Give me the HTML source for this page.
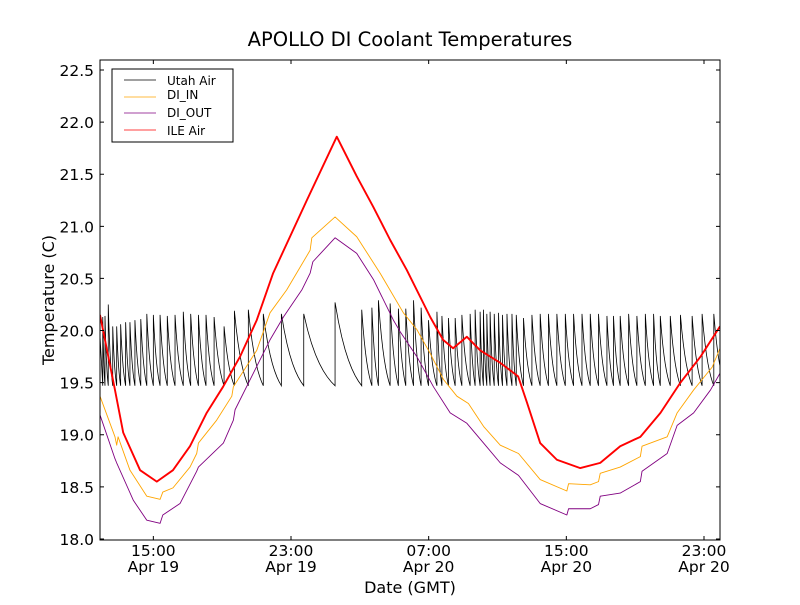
<!DOCTYPE html>
<html><head><meta charset="utf-8">
<style>
html,body{margin:0;padding:0;background:#fff;}
svg text{font-family:"DejaVu Sans","Liberation Sans",sans-serif;fill:#000;}
</style></head>
<body>
<svg id="chart" width="800" height="600" xmlns="http://www.w3.org/2000/svg">
<rect width="800" height="600" fill="#fff"/>
<text x="410" y="46" font-size="19.5" text-anchor="middle">APOLLO DI Coolant Temperatures</text>
<text x="410" y="593" font-size="16" text-anchor="middle">Date (GMT)</text>
<text transform="translate(54,300) rotate(-90)" font-size="16" text-anchor="middle">Temperature (C)</text>
<g id="series"></g>
<g id="axes"></g>
<g id="legend">
<rect x="112" y="69" width="121" height="73" fill="#fff" stroke="#000" stroke-width="1"/>
<g><line x1="124" x2="156" y1="80" y2="80" stroke="#000" stroke-width="0.8"/><text x="167" y="85" font-size="12">Utah Air</text></g>
<g><line x1="124" x2="156" y1="97" y2="97" stroke="#ffa500" stroke-width="0.8"/><text x="167" y="99" font-size="12">DI_IN</text></g>
<g><line x1="124" x2="156" y1="113" y2="113" stroke="#800080" stroke-width="0.8"/><text x="167" y="117" font-size="12">DI_OUT</text></g>
<g><line x1="124" x2="156" y1="130" y2="130" stroke="#ff0000" stroke-width="0.8"/><text x="167" y="135" font-size="12">ILE Air</text></g>
</g>
</svg>
<script>
// time in hours since Apr 19 00:00 GMT
const xTicks = [15, 23, 31, 39, 47];
const xTickTimes = ["15:00", "23:00", "07:00", "15:00", "23:00"];
const xTickDates = ["Apr 19", "Apr 19", "Apr 20", "Apr 20", "Apr 20"];
const yTicks = [18.0, 18.5, 19.0, 19.5, 20.0, 20.5, 21.0, 21.5, 22.0, 22.5];

const ileTimes = [11.9,12.77,13.25,14.23,15.2,16.14,17.13,18.1,19.05,20.04,21.01,21.96,23.92,25.66,26.82,27.77,28.76,29.73,31.09,31.84,32.42,33.22,33.99,35.16,36.2,36.71,37.48,38.45,39.81,40.97,42.13,43.3,44.47,45.63,46.8,47.93];
const ileValues = [20.15,19.43,19.02,18.66,18.55,18.66,18.89,19.21,19.46,19.75,20.1,20.55,21.25,21.86,21.48,21.19,20.87,20.58,20.13,19.91,19.83,19.94,19.81,19.69,19.56,19.31,18.92,18.76,18.68,18.73,18.89,18.98,19.21,19.5,19.75,20.04];

const inTimes = [11.9,12.77,12.87,12.95,13.64,14.62,15.39,15.55,16.14,17.13,17.52,17.62,18.68,19.56,19.65,21.01,21.78,22.75,24.11,24.21,25.56,26.82,28.18,29.53,30.31,31.09,31.86,32.64,33.31,34.19,35.16,36.22,37.48,39.03,39.13,40.39,40.87,40.97,42.13,43.3,43.4,44.86,45.44,46.4,47.48,47.93];
const inValues = [19.37,18.98,18.9,18.98,18.66,18.41,18.38,18.45,18.49,18.69,18.82,18.92,19.14,19.37,19.46,19.81,20.17,20.39,20.77,20.89,21.09,20.9,20.55,20.17,20.01,19.78,19.53,19.37,19.3,19.08,18.9,18.82,18.57,18.46,18.53,18.52,18.55,18.63,18.69,18.79,18.89,18.98,19.21,19.43,19.65,19.83];

const outTimes = [11.9,12.77,12.87,13.84,14.62,15.39,15.55,16.55,17.52,17.62,19.07,19.65,19.75,21.78,22.56,23.63,24.11,24.27,25.56,26.82,27.79,28.95,29.34,30.31,31.28,32.25,33.22,34.19,35.16,36.22,37.48,39.03,39.13,40.39,40.87,40.97,42.13,43.3,43.4,44.86,45.44,46.4,47.38,47.93];
const outValues = [19.19,18.77,18.73,18.37,18.18,18.15,18.23,18.34,18.65,18.69,18.92,19.14,19.24,19.91,20.13,20.39,20.55,20.66,20.89,20.74,20.49,20.1,19.99,19.75,19.46,19.21,19.11,18.92,18.73,18.61,18.34,18.23,18.29,18.29,18.33,18.41,18.44,18.55,18.65,18.82,19.09,19.21,19.43,19.59];

const utahPeakTimes = [12.06,12.19,12.38,12.64,12.87,13.1,13.39,13.64,13.93,14.27,14.62,15.0,15.39,15.81,16.26,16.74,17.17,17.62,18.06,18.53,19.11,19.71,20.52,21.39,22.44,23.74,25.56,27.11,27.7,28.08,28.76,29.24,29.67,30.12,30.56,30.99,31.48,31.77,32.15,32.54,32.93,33.41,33.7,33.99,34.18,34.38,34.57,34.81,35.06,35.29,35.55,35.84,36.09,36.51,37.0,37.48,37.96,38.45,38.94,39.42,39.91,40.39,40.87,41.36,41.74,42.13,42.62,43.1,43.59,44.07,44.46,45.04,45.63,46.31,46.89,47.57];
const utahPeakValues = [20.13,20.14,20.25,20.04,20.04,20.06,20.08,20.08,20.1,20.11,20.16,20.15,20.15,20.14,20.15,20.18,20.16,20.15,20.15,20.13,20.04,20.19,20.2,20.16,20.16,20.16,20.27,20.2,20.22,20.29,20.26,20.21,20.21,20.29,20.22,20.1,20.18,20.14,20.12,20.12,20.15,20.16,20.2,20.18,20.2,20.16,20.18,20.16,20.17,20.15,20.16,20.16,20.15,20.12,20.15,20.16,20.16,20.16,20.16,20.16,20.16,20.16,20.16,20.14,20.14,20.14,20.16,20.14,20.16,20.16,20.14,20.14,20.15,20.14,20.16,20.16];
const utahTrough = 19.47;
const utahStart = 19.95;

const T0 = 11.9, T1 = 47.93, X0 = 100, X1 = 720;
const V0 = 17.99, V1 = 22.596, Y0 = 540, Y1 = 60;
function xs(t){ return X0 + (t - T0) / (T1 - T0) * (X1 - X0); }
function ys(v){ return Y0 - (v - V0) / (V1 - V0) * (Y0 - Y1); }
const NS = "http://www.w3.org/2000/svg";
const series = document.getElementById('series');
const axes = document.getElementById('axes');

const defs = document.createElementNS(NS, 'defs');
defs.innerHTML = '<clipPath id="clip"><rect x="100" y="60" width="620" height="480"/></clipPath>';
document.getElementById('chart').insertBefore(defs, series);
series.setAttribute('clip-path', 'url(#clip)');

function linePath(times, vals){
  let d = '';
  for (let i = 0; i < times.length; i++) d += (i ? 'L' : 'M') + xs(times[i]).toFixed(2) + ',' + ys(vals[i]).toFixed(2);
  return d;
}

(function(){
  let d = 'M' + xs(T0).toFixed(2) + ',' + ys(utahStart).toFixed(2);
  d += 'L' + xs(utahPeakTimes[0]).toFixed(2) + ',' + ys(utahTrough).toFixed(2);
  const k = 1.6, norm = 1 - Math.exp(-k);
  for (let i = 0; i < utahPeakTimes.length; i++) {
    const t = utahPeakTimes[i], p = utahPeakValues[i];
    const tn = i + 1 < utahPeakTimes.length ? utahPeakTimes[i + 1] : T1 + 0.3;
    d += 'L' + xs(t).toFixed(2) + ',' + ys(p).toFixed(2);
    const steps = 8;
    for (let s = 1; s <= steps; s++) {
      const f = s / steps;
      const g = (Math.exp(-k * f) - Math.exp(-k)) / norm;
      const v = utahTrough + (p - utahTrough) * g;
      d += 'L' + xs(t + (tn - t) * f).toFixed(2) + ',' + ys(v).toFixed(2);
    }
  }
  const el = document.createElementNS(NS, 'path');
  el.setAttribute('d', d);
  el.setAttribute('fill', 'none');
  el.setAttribute('stroke', '#000');
  el.setAttribute('stroke-width', '0.8');
  
  
  series.appendChild(el);
})();

function addLine(times, vals, color, w, name){
  const el = document.createElementNS(NS, 'path');
  el.setAttribute('d', linePath(times, vals));
  el.setAttribute('fill', 'none');
  el.setAttribute('stroke', color);
  el.setAttribute('stroke-width', w);
  el.setAttribute('stroke-linejoin', 'round');
  
  
  series.appendChild(el);
}
addLine(inTimes, inValues, '#ffa500', 0.9, 'di-in-line');
addLine(outTimes, outValues, '#800080', 0.9, 'di-out-line');
addLine(ileTimes, ileValues, '#ff0000', 1.9, 'ile-air-line');

const frame = document.createElementNS(NS, 'rect');
frame.setAttribute('x', 100); frame.setAttribute('y', 60);
frame.setAttribute('width', 620); frame.setAttribute('height', 480);
frame.setAttribute('fill', 'none'); frame.setAttribute('stroke', '#000'); frame.setAttribute('stroke-width', '1');


axes.appendChild(frame);

yTicks.forEach(function(v){
  const y = ys(v);
  const t = document.createElementNS(NS, 'path');
  t.setAttribute('d', 'M100,' + y + 'h4M720,' + y + 'h-4');
  t.setAttribute('stroke', '#000');
  
  
  axes.appendChild(t);
  const l = document.createElementNS(NS, 'text');
  l.setAttribute('x', 94); l.setAttribute('y', y + 6);
  l.setAttribute('font-size', '15.5'); l.setAttribute('text-anchor', 'end');
  l.textContent = v.toFixed(1);
  
  
  axes.appendChild(l);
});
xTicks.forEach(function(tv, i){
  const x = xs(tv);
  const t = document.createElementNS(NS, 'path');
  t.setAttribute('d', 'M' + x + ',540v-4M' + x + ',60v4');
  t.setAttribute('stroke', '#000');
  
  
  axes.appendChild(t);
  const l = document.createElementNS(NS, 'text');
  l.setAttribute('x', x); l.setAttribute('y', 556);
  l.setAttribute('font-size', '15.5'); l.setAttribute('text-anchor', 'middle');
  l.textContent = xTickTimes[i];
  
  
  axes.appendChild(l);
  const l2 = document.createElementNS(NS, 'text');
  l2.setAttribute('x', x); l2.setAttribute('y', 572);
  l2.setAttribute('font-size', '15.5'); l2.setAttribute('text-anchor', 'middle');
  l2.textContent = xTickDates[i];
  
  
  axes.appendChild(l2);
});
</script>
</body></html>
